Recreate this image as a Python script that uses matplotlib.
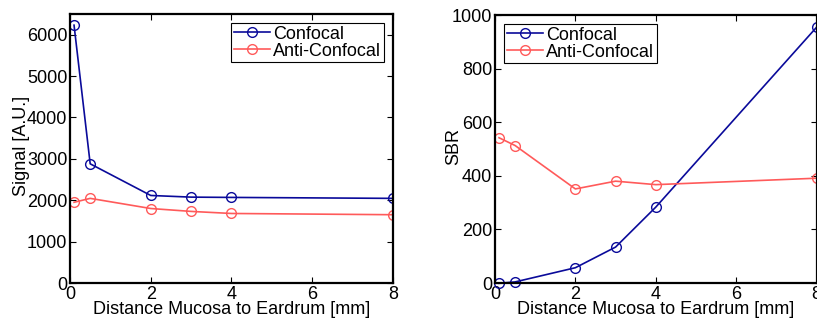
import numpy as np
import matplotlib.pyplot as plt

plt.rcParams['font.family'] = ['Liberation Sans', 'DejaVu Sans']

distance = [0.1, 0.5, 2, 3, 4, 8]
signal_confocal = [6230, 2880, 2115, 2075, 2068, 2045]
signal_anti = [1950, 2045, 1800, 1730, 1680, 1650]
sbr_confocal = [-1, 4, 57, 134, 283, 954]
sbr_anti = [542, 513, 351, 380, 367, 391]

blue = '#0a0a9a'
red = '#ff5a5a'
fs = 13

fig = plt.figure(figsize=(8.17, 3.22), dpi=100)
ax1 = fig.add_axes([70/817, 1-283/322, 323/817, 269/322])
ax2 = fig.add_axes([495/817, 1-283/322, 321.5/817, 268/322])

def style(ax):
    ax.tick_params(direction='in', top=True, right=True, labelsize=fs, length=4, width=0.8, pad=2)
    for s in ax.spines.values():
        s.set_linewidth(1.6)
    ax.set_xlabel('Distance Mucosa to Eardrum [mm]', fontsize=fs, labelpad=-1)
    ax.set_xticks([0, 2, 4, 6, 8])

ax1.plot(distance, signal_confocal, '-o', color=blue, mfc='none', ms=7, lw=1.2, label='Confocal')
ax1.plot(distance, signal_anti, '-o', color=red, mfc='none', ms=7, lw=1.2, label='Anti-Confocal')
ax1.set_xlim(0, 8)
ax1.set_ylim(0, 6500)
ax1.set_yticks(np.arange(0, 6001, 1000))
ax1.set_ylabel('Signal [A.U.]', fontsize=fs)
ax1.yaxis.set_label_coords(-0.124, 0.51)
style(ax1)
ax1.legend(loc='upper right', fontsize=fs, fancybox=False, edgecolor='black',
           borderpad=0.15, labelspacing=0.0, handlelength=2, handletextpad=0.2,
           borderaxespad=0.5, framealpha=1).get_frame().set_linewidth(0.8)

ax2.plot(distance, sbr_confocal, '-o', color=blue, mfc='none', ms=7, lw=1.2, label='Confocal', clip_on=False)
ax2.plot(distance, sbr_anti, '-o', color=red, mfc='none', ms=7, lw=1.2, label='Anti-Confocal', clip_on=False)
ax2.set_xlim(0, 8)
ax2.set_ylim(0, 1000)
ax2.set_yticks(np.arange(0, 1001, 200))
ax2.set_ylabel('SBR', fontsize=fs)
ax2.yaxis.set_label_coords(-0.103, 0.51)
style(ax2)
ax2.legend(loc='upper left', fontsize=fs, fancybox=False, edgecolor='black',
           borderpad=0.15, labelspacing=0.0, handlelength=2, handletextpad=0.2,
           borderaxespad=0.5, framealpha=1).get_frame().set_linewidth(0.8)

fig.savefig('out.png', dpi=100)
